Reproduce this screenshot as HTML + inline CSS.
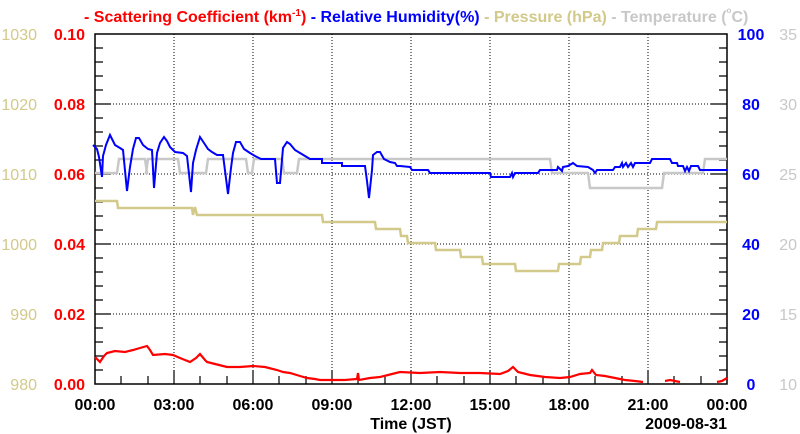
<!DOCTYPE html>
<html><head><meta charset="utf-8"><style>
html,body{margin:0;padding:0;background:#fff;}
svg{display:block;font-family:"Liberation Sans",Arial,sans-serif;}
</style></head><body>
<svg width="800" height="434" viewBox="0 0 800 434" xmlns="http://www.w3.org/2000/svg">
<!-- title -->
<text y="22" font-size="16" font-weight="bold">
<tspan x="84" fill="#ff0000">- Scattering Coefficient (km</tspan><tspan fill="#ff0000" font-size="10" dy="-6">-1</tspan><tspan fill="#ff0000" dy="6">)</tspan>
<tspan fill="#0000ff"> - Relative Humidity(%)</tspan>
<tspan fill="#d2c98a"> - Pressure (hPa)</tspan>
<tspan fill="#c8c8c8"> - Temperature (</tspan><tspan fill="#c8c8c8" font-size="8" dy="-9">o</tspan><tspan fill="#c8c8c8" dy="9">C)</tspan>
</text>
<!-- grid -->
<g stroke="#000" stroke-width="1" stroke-dasharray="1,2">
<line x1="174" y1="34" x2="174" y2="384"/><line x1="253" y1="34" x2="253" y2="384"/>
<line x1="332" y1="34" x2="332" y2="384"/><line x1="411" y1="34" x2="411" y2="384"/>
<line x1="490" y1="34" x2="490" y2="384"/><line x1="569" y1="34" x2="569" y2="384"/>
<line x1="648" y1="34" x2="648" y2="384"/>
<line x1="95" y1="104" x2="727" y2="104"/><line x1="95" y1="174" x2="727" y2="174"/>
<line x1="95" y1="244" x2="727" y2="244"/><line x1="95" y1="314" x2="727" y2="314"/>
</g>
<!-- ticks -->
<g stroke="#000" stroke-width="1.2">
<path d="M95 48h8M95 62h8M95 76h8M95 90h8M95 118h8M95 132h8M95 146h8M95 160h8M95 188h8M95 202h8M95 216h8M95 230h8M95 258h8M95 272h8M95 286h8M95 300h8M95 328h8M95 342h8M95 356h8M95 370h8"/>
<path d="M95 104h16M95 174h16M95 244h16M95 314h16"/>
<path d="M727 48h-8M727 62h-8M727 76h-8M727 90h-8M727 118h-8M727 132h-8M727 146h-8M727 160h-8M727 188h-8M727 202h-8M727 216h-8M727 230h-8M727 258h-8M727 272h-8M727 286h-8M727 300h-8M727 328h-8M727 342h-8M727 356h-8M727 370h-8"/>
<path d="M727 104h-16M727 174h-16M727 244h-16M727 314h-16"/>
<path d="M121 384v-8M148 384v-8M200 384v-8M227 384v-8M279 384v-8M306 384v-8M358 384v-8M385 384v-8M437 384v-8M464 384v-8M516 384v-8M543 384v-8M595 384v-8M622 384v-8M674 384v-8M701 384v-8"/>
<path d="M174 384v-14M253 384v-14M332 384v-14M411 384v-14M490 384v-14M569 384v-14M648 384v-14"/>
</g>
<rect x="95" y="34" width="632" height="350" fill="none" stroke="#000" stroke-width="1.5"/>
<!-- temperature -->
<polyline fill="none" stroke="#c8c8c8" stroke-width="2.5" points="95,173 117,173 119,159 145,159 147,173 146,173 148,159 178,159 180,173 206,173 208,159 246,159 248,173 252,173 254,159 282,159 284,173 297,173 299,159 550,159 552,173 588,173 590,188 662,188 664,173 703,173 705,159 727,159"/>
<!-- pressure -->
<polyline fill="none" stroke="#d2c98a" stroke-width="2.5" points="95,201 117,201 118,208 192,208 193,215 195,207 197,215 322,215 323,222 375,222 376,229 400,229 401,236 407,236 408,243 435,243 436,250 460,250 461,257 482,257 483,264 515,264 516,271 558,271 559,264 580,264 581,257 590,257 591,250 602,250 603,243 619,243 620,236 637,236 638,229 656,229 657,222 727,222"/>
<!-- RH -->
<polyline fill="none" stroke="#0000ff" stroke-width="2" points="93,145 97,149 99,157 102,177 103,156 106,145 110,135 115,145 120,148 123,150 127,191 130,167 133,149 136,138 139,138 143,145 148,149 152,150 154,188 157,153 160,143 164,137 167,141 170,147 175,152 183,153 187,156 191,192 193,163 196,150 200,137 204,143 208,149 212,152 217,155 223,155 228,194 231,168 233,153 236,142 240,142 244,149 250,153 255,156 261,159 275,159 277,183 280,183 283,148 287,142 290,144 295,150 300,153 305,156 310,159 322,159 322,163 342,163 342,166 365,166 367,181 369,198 372,170 373,155 377,152 380,152 384,159 390,162 395,163 397,166 400,166 410,167 412,170 428,170 430,173 490,173 491,177 510,177 512,173 513,177 515,173 538,173 540,170 557,170 558,167 562,171 563,167 568,166 573,163 577,166 588,167 593,170 595,173 597,170 613,170 615,167 620,167 622,163 623,167 626,163 628,167 631,163 633,167 635,163 650,163 652,159 670,159 672,163 677,163 678,166 683,166 685,171 687,167 689,171 691,166 698,166 700,170 727,170"/>
<!-- scattering -->
<polyline fill="none" stroke="#ff0000" stroke-width="2.2" points="95,357 100,362 104,356 107,353 115,351 125,352 133,350 140,348 147,346 150,350 153,355 165,354 173,355 180,358 190,362 196,358 200,354 205,360 207,362 215,364 227,367 240,367 253,366 265,367 277,370 283,372 290,373 300,376 307,378 315,379 320,380 333,380 345,380 357,379 358,373 359,380 370,378 380,377 392,374 400,372 420,373 440,372 460,373 480,373 500,374 508,371 513,367 518,372 530,375 545,377 560,378 570,377 580,374 590,373 592,370 596,375 605,376 615,378 625,380 635,381 643,382"/>
<polyline fill="none" stroke="#ff0000" stroke-width="2.2" points="665,381 670,380 675,381 680,382"/>
<polyline fill="none" stroke="#ff0000" stroke-width="2.2" points="717,382 722,381 727,378"/>
<!-- left labels -->
<g font-size="16" fill="#d2c98a" text-anchor="end">
<text x="37" y="40">1030</text><text x="37" y="110">1020</text><text x="37" y="180">1010</text>
<text x="37" y="250">1000</text><text x="37" y="320">990</text><text x="37" y="390">980</text>
</g>
<g font-size="16" font-weight="bold" fill="#ff0000" text-anchor="end">
<text x="85" y="40">0.10</text><text x="85" y="110">0.08</text><text x="85" y="180">0.06</text>
<text x="85" y="250">0.04</text><text x="85" y="320">0.02</text><text x="85" y="390">0.00</text>
</g>
<g font-size="16" font-weight="bold" fill="#0000ff" text-anchor="middle">
<text x="751" y="40">100</text><text x="751" y="110">80</text><text x="751" y="180">60</text>
<text x="751" y="250">40</text><text x="751" y="320">20</text><text x="751" y="390">0</text>
</g>
<g font-size="16" fill="#c8c8c8" text-anchor="end">
<text x="797" y="40">35</text><text x="797" y="110">30</text><text x="797" y="180">25</text>
<text x="797" y="250">20</text><text x="797" y="320">15</text><text x="797" y="390">10</text>
</g>
<g font-size="16" font-weight="bold" fill="#000" text-anchor="middle">
<text x="95" y="410">00:00</text><text x="174" y="410">03:00</text><text x="253" y="410">06:00</text>
<text x="332" y="410">09:00</text><text x="411" y="410">12:00</text><text x="490" y="410">15:00</text>
<text x="569" y="410">18:00</text><text x="648" y="410">21:00</text><text x="727" y="410">00:00</text>
<text x="411" y="429">Time (JST)</text>
</g>
<text x="727" y="429" font-size="16" font-weight="bold" text-anchor="end">2009-08-31</text>
</svg>
</body></html>
